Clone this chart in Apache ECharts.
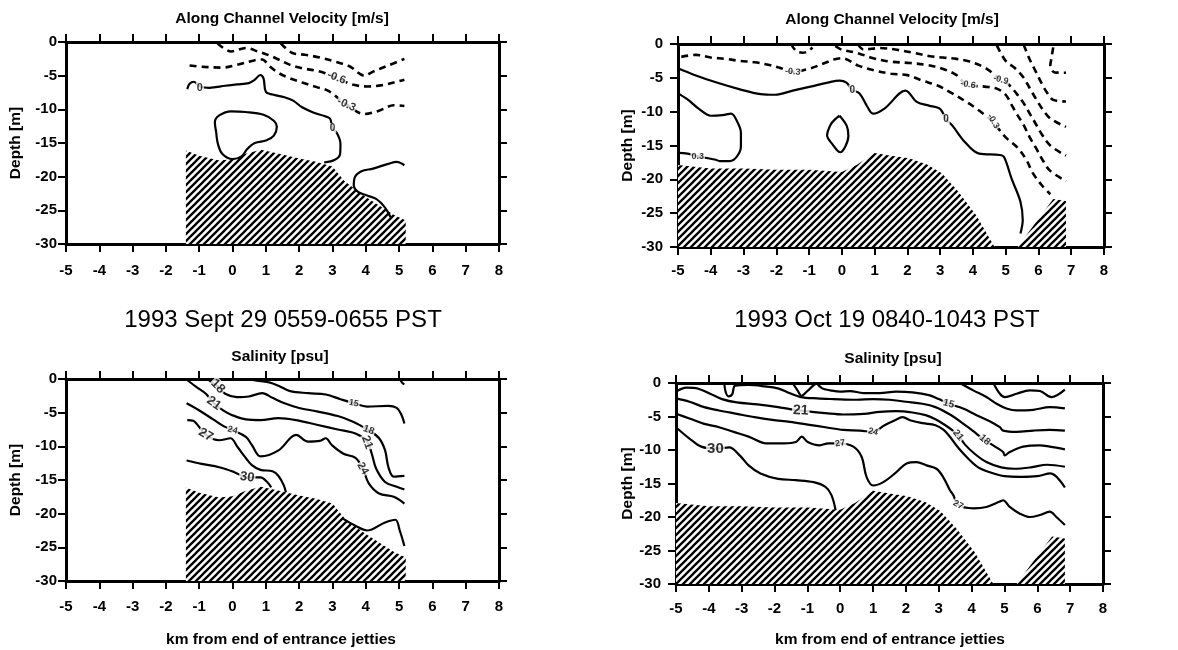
<!DOCTYPE html>
<html>
<head>
<meta charset="utf-8">
<script src="https://cdn.jsdelivr.net/npm/echarts@6/dist/echarts.min.js"></script>
<style>
html,body{margin:0;padding:0;background:#fff;}
#chart{width:1178px;height:650px;}
</style>
</head>
<body>
<div id="chart"></div>
<script>
// ---------------- DATA ----------------
const kmTicks = [-5,-4,-3,-2,-1,0,1,2,3,4,5,6,7,8];
const depthTicks = [0,-5,-10,-15,-20,-25,-30];

// bottom profiles [km, depth]
const bottomSep29 = [[-1.4,-16.1],[-1.0,-16.9],[-0.4,-17.6],[0.0,-17.4],[0.4,-16.6],[0.85,-16.0],[1.4,-16.6],[2.0,-17.3],[2.5,-17.8],[3.0,-18.5],[3.35,-20.6],[3.9,-22.7],[4.4,-24.3],[4.85,-25.7],[5.2,-26.5]];
const bottomOct19 = [[-5,-17.9],[-4.0,-18.4],[-3.0,-18.4],[-2.0,-18.6],[-1.0,-18.6],[0.0,-18.9],[0.45,-17.9],[1.0,-16.1],[1.5,-16.5],[2.05,-16.9],[2.6,-17.8],[3.05,-19.1],[3.55,-21.8],[4.1,-25.3],[4.66,-30],[5.37,-30],[5.9,-26.5],[6.45,-22.9],[6.84,-23.2]];

// Along channel velocity, 1993 Sept 29
const velSep29_m09 = [[1.45,-0.2],[1.78,-1.6],[2.18,-1.9],[2.62,-2.3],[3.07,-2.9],[3.51,-3.6],[3.96,-5.0],[4.22,-4.4],[4.67,-3.5],[5.16,-2.5]];
const velSep29_m06 = [[-0.45,-0.2],[-0.04,-1.4],[0.40,-0.9],[0.76,-1.4],[1.11,-2.0],[1.38,-2.6],[1.73,-3.4],[2.09,-3.9],[2.44,-4.2],[2.76,-4.6],[3.1,-5.3],[3.60,-6.3],[4.04,-6.6],[4.49,-6.4],[4.93,-5.9],[5.16,-5.6]];
const velSep29_m03 = [[-1.29,-3.5],[-0.84,-3.7],[-0.31,-3.8],[0.13,-3.4],[0.67,-2.7],[0.89,-2.6],[1.11,-3.6],[1.38,-4.6],[1.73,-5.4],[2.09,-6.0],[2.53,-6.7],[2.89,-7.3],[3.4,-9.2],[3.96,-10.7],[4.40,-10.2],[4.84,-9.4],[5.16,-9.5]];
const velSep29_0a = [[-1.36,-7.0],[-1.29,-6.2],[-1.16,-5.9],[-0.98,-6.6],[-0.7,-6.8],[-0.22,-6.5],[0.13,-6.3],[0.49,-6.1],[0.67,-5.6],[0.83,-4.9],[0.93,-5.4],[1.0,-7.4],[1.2,-7.8],[1.56,-8.2],[1.82,-8.7],[2.09,-9.7],[2.44,-10.5],[2.76,-11.0],[2.93,-11.4],[3.0,-12.8],[3.14,-13.6],[3.24,-15.1],[3.23,-16.6],[3.07,-17.5],[2.75,-17.9]];
const velSep29_0loop = [[-0.49,-13.4],[-0.53,-11.9],[-0.40,-10.9],[-0.04,-10.3],[0.40,-10.4],[0.93,-10.8],[1.24,-11.7],[1.33,-12.6],[1.24,-13.9],[1.02,-14.6],[0.67,-15.0],[0.44,-15.9],[0.27,-17.0],[0.0,-17.4],[-0.31,-16.6],[-0.44,-15.1],[-0.49,-13.4]];
const velSep29_0b = [[5.16,-18.3],[4.93,-17.8],[4.67,-18.1],[4.22,-18.8],[3.87,-19.2],[3.67,-20.1],[3.64,-21.3],[3.78,-22.3],[4.04,-22.8],[4.31,-23.3],[4.53,-24.3],[4.67,-25.3],[4.74,-26.0]];
const velSep29Labels = [[-0.98,-6.8,'0'],[3.0,-12.8,'0'],[3.12,-5.3,'-0.6'],[3.42,-9.3,'-0.3']];

// Along channel velocity, 1993 Oct 19
const velOct19_0a = [[-5,-3.6],[-4.54,-4.5],[-3.82,-5.7],[-3.11,-6.7],[-2.48,-7.4],[-2.04,-7.5],[-1.5,-6.9],[-0.96,-6.3],[-0.43,-5.7],[-0.07,-5.4],[0.14,-5.7],[0.32,-6.8],[0.54,-7.3],[0.77,-9.2],[0.95,-10.3],[1.31,-9.5],[1.94,-6.9],[2.3,-8.6],[2.66,-9.1],[2.97,-9.5],[3.06,-10.0],[3.18,-11.1],[3.38,-12.1],[3.74,-14.4],[4.19,-16.2],[4.82,-16.4],[4.95,-16.7],[5.18,-19.9],[5.45,-23.3],[5.52,-26.0],[5.45,-28.0]];
const velOct19_03 = [[-5,-7.3],[-4.71,-8.2],[-4.36,-9.6],[-4.0,-10.6],[-3.64,-10.5],[-3.38,-10.3],[-3.2,-11.4],[-3.08,-13.1],[-3.08,-15.1],[-3.2,-16.6],[-3.42,-17.3],[-3.73,-17.3],[-3.85,-17.1],[-4.4,-16.6],[-4.71,-16.2],[-5,-16.1]];
const velOct19_0loop = [[-0.07,-10.6],[0.15,-12.1],[0.2,-13.6],[0.11,-15.1],[-0.05,-16.0],[-0.29,-14.8],[-0.45,-13.5],[-0.34,-11.9],[-0.2,-11.1],[-0.07,-10.6]];
const velOct19_m03 = [[-4.9,-1.9],[-4.45,-1.6],[-4.0,-2.0],[-3.55,-2.2],[-3.11,-2.5],[-2.66,-2.7],[-2.21,-3.1],[-1.9,-3.5],[-1.5,-4.1],[-0.96,-3.6],[-0.52,-2.8],[-0.25,-2.3],[0.0,-2.1],[0.5,-3.2],[1.0,-3.9],[1.5,-4.4],[2.0,-4.6],[2.45,-5.4],[2.9,-6.1],[3.3,-7.1],[3.75,-8.4],[4.15,-9.7],[4.6,-11.5],[5.0,-13.8],[5.36,-15.3],[5.64,-17.2],[5.82,-19.0],[6.09,-20.8],[6.36,-22.2]];
const velOct19_m06a = [[-1.55,0],[-1.4,-1.0],[-1.2,-1.3],[-1.0,-1.0],[-0.9,-0.5]];
const velOct19_m06 = [[-0.2,-0.3],[0.0,-0.85],[0.45,-1.3],[0.96,-2.1],[1.47,-2.6],[2.08,-2.8],[2.59,-3.1],[3.09,-3.7],[3.5,-4.6],[3.8,-6.0],[4.36,-6.3],[4.73,-6.6],[5.0,-7.5],[5.18,-9.0],[5.36,-10.5],[5.55,-12.0],[5.73,-13.75],[5.91,-15.25],[6.14,-17.25],[6.36,-18.75],[6.84,-20.25]];
const velOct19_m09 = [[0.5,-0.1],[0.66,-0.8],[1.17,-0.6],[1.68,-0.85],[2.18,-1.3],[2.69,-1.8],[3.09,-2.0],[3.5,-2.2],[3.9,-2.6],[4.4,-3.6],[4.85,-5.3],[5.09,-6.0],[5.32,-7.25],[5.55,-8.75],[5.73,-10.25],[5.91,-11.75],[6.09,-13.25],[6.36,-15.0],[6.84,-16.5]];
const velOct19_m12 = [[4.73,-0.2],[5.0,-2.5],[5.27,-3.5],[5.55,-5.0],[5.73,-6.5],[5.91,-8.0],[6.14,-9.75],[6.36,-11.0],[6.84,-12.25]];
const velOct19_m15 = [[5.55,-0.1],[5.73,-2.25],[5.91,-4.0],[6.09,-5.75],[6.27,-7.25],[6.45,-8.25],[6.84,-8.5]];
const velOct19_m18 = [[6.45,-0.5],[6.4,-2.0],[6.36,-3.25],[6.5,-4.2],[6.84,-4.25]];
const velOct19Labels = [[-1.5,-4.1,'-0.3'],[0.32,-6.8,'0'],[3.18,-11.1,'0'],[3.85,-6.0,'-0.6'],[4.85,-5.3,'-0.9'],[4.62,-11.4,'-0.3'],[-4.4,-16.6,'0.3']];

// Salinity, 1993 Sept 29
const salSep29_15 = [[0.45,0],[0.8,-0.3],[1.1,-0.5],[1.38,-1.0],[1.73,-1.8],[2.27,-2.1],[2.8,-2.3],[3.24,-3.0],[3.64,-3.6],[4.04,-4.1],[4.67,-4.0],[4.93,-4.3],[5.07,-5.3],[5.16,-6.6]];
const salSep29_15b = [[5.02,0],[5.1,-0.6],[5.16,-0.8]];
const salSep29_18 = [[-0.75,0],[-0.6,-0.6],[-0.44,-1.1],[-0.22,-2.2],[0.13,-2.7],[0.49,-2.6],[0.89,-2.1],[1.2,-2.8],[1.56,-3.6],[2.0,-4.3],[2.53,-4.8],[3.16,-5.5],[3.6,-6.3],[3.87,-7.0],[4.09,-7.6],[4.4,-8.8],[4.58,-10.6],[4.68,-13.1],[4.84,-14.5],[5.16,-14.4]];
const salSep29_21 = [[-1.4,0],[-1.11,-1.1],[-0.8,-2.2],[-0.56,-3.6],[-0.27,-4.7],[-0.04,-5.3],[0.4,-6.0],[0.84,-6.1],[1.38,-5.8],[1.91,-6.1],[2.53,-6.8],[3.16,-7.5],[3.69,-8.1],[4.04,-9.3],[4.18,-11.1],[4.31,-13.3],[4.58,-15.3],[4.93,-16.0],[5.16,-16.4]];
const salSep29_24 = [[-1.38,-3.6],[-1.02,-4.6],[-0.58,-6.0],[-0.27,-7.0],[0.0,-7.6],[0.4,-8.6],[0.58,-9.8],[0.84,-11.5],[1.38,-10.6],[1.91,-8.3],[2.27,-9.3],[2.62,-9.2],[2.8,-8.8],[2.98,-9.8],[3.33,-11.1],[3.69,-11.7],[3.91,-13.3],[4.09,-15.5],[4.4,-17.0],[4.84,-17.5],[5.16,-18.5]];
const salSep29_27 = [[-1.36,-6.1],[-1.18,-6.2],[-1.07,-6.7],[-0.8,-8.3],[-0.4,-9.1],[-0.06,-8.8],[0.15,-10.1],[0.36,-11.5],[0.58,-12.8],[0.84,-13.5],[1.2,-13.7],[1.38,-14.4],[1.54,-15.8],[1.6,-16.8]];
const salSep29_30 = [[-1.38,-12.1],[-0.93,-12.6],[-0.4,-13.1],[0.04,-13.8],[0.44,-14.6],[0.84,-14.6],[1.04,-15.3],[1.16,-16.1]];
const salSep29_30b = [[3.3,-20.7],[3.69,-21.8],[4.04,-22.5],[4.58,-21.3],[4.89,-20.9],[5.02,-22.5],[5.16,-24.8]];
const salSep29Labels = [[-0.44,-1.1,'18'],[-0.56,-3.6,'21'],[0.0,-7.6,'24'],[-0.8,-8.3,'27'],[0.44,-14.6,'30'],[3.64,-3.6,'15'],[4.09,-7.6,'18'],[4.04,-9.4,'21'],[3.91,-13.3,'24']];

// Salinity, 1993 Oct 19
const salOct19_a = [[4.66,0],[4.86,-1.6],[5.01,-2.1],[5.37,-1.6],[5.77,-1.1],[6.08,-1.2],[6.43,-2.1],[6.84,-1.0]];
const salOct19_b = [[3.64,0],[4.05,-1.1],[4.45,-2.1],[4.76,-3.1],[5.06,-3.8],[5.37,-4.1],[5.88,-4.0],[6.38,-3.6],[6.84,-3.8]];
const salOct19_15 = [[-0.72,0],[-0.55,-0.8],[-0.3,-1.1],[0.0,-1.3],[0.3,-1.2],[0.7,-1.5],[1.2,-1.5],[1.7,-1.3],[2.2,-1.4],[2.7,-1.8],[3.0,-2.4],[3.3,-3.1],[3.74,-3.8],[4.15,-4.8],[4.55,-5.7],[4.86,-6.6],[4.96,-7.1],[5.37,-7.3],[5.88,-7.1],[6.38,-7.0],[6.84,-7.1]];
const salOct19_18 = [[-3.53,0],[-3.49,-1.3],[-3.4,-2.0],[-3.29,-1.7],[-3.2,-0.4],[-2.8,-0.3],[-2.3,-0.5],[-1.9,-0.8],[-1.55,-1.5],[-1.2,-2.1],[-0.7,-2.3],[-0.2,-2.4],[0.5,-2.5],[1.0,-2.4],[1.5,-2.5],[2.0,-2.8],[2.5,-3.1],[2.9,-3.6],[3.3,-4.6],[3.7,-5.9],[4.05,-7.2],[4.4,-8.5],[4.75,-9.6],[4.96,-10.3],[5.01,-10.8],[5.16,-10.3],[5.57,-9.5],[6.08,-9.3],[6.38,-9.5],[6.84,-9.9]];
const salOct19_v = [[-1.45,0],[-1.3,-1.1],[-1.18,-1.9],[-1.0,-1.2],[-0.85,-0.5],[-0.72,0]];
const salOct19_21 = [[-5,-1.3],[-4.68,-0.7],[-4.32,-0.85],[-3.96,-1.6],[-3.6,-2.4],[-3.15,-2.9],[-2.52,-3.2],[-1.89,-3.6],[-1.53,-3.9],[-1.2,-4.1],[-0.86,-4.3],[-0.45,-4.5],[0.09,-4.7],[0.72,-4.6],[1.2,-4.3],[1.7,-4.2],[2.2,-4.4],[2.6,-4.8],[2.9,-5.4],[3.2,-6.3],[3.4,-7.0],[3.59,-7.8],[3.8,-9.2],[4.1,-10.6],[4.45,-11.8],[4.9,-12.6],[5.3,-12.8],[5.8,-12.6],[6.3,-12.2],[6.84,-12.5]];
const salOct19_24 = [[-5,-2.3],[-4.59,-2.8],[-4.14,-3.6],[-3.69,-4.1],[-3.15,-4.6],[-2.61,-5.1],[-2.07,-5.5],[-1.53,-5.8],[-0.99,-6.2],[-0.45,-6.6],[0.09,-7.0],[0.6,-7.1],[1.0,-7.3],[1.35,-6.3],[1.65,-5.6],[1.9,-5.1],[2.15,-5.6],[2.5,-6.0],[2.9,-6.3],[3.15,-7.0],[3.35,-8.1],[3.6,-9.7],[3.9,-11.3],[4.2,-12.6],[4.6,-13.4],[5.0,-13.9],[5.5,-14.0],[6.0,-13.9],[6.4,-13.5],[6.84,-15.6]];
const salOct19_27 = [[-5,-4.6],[-4.59,-5.3],[-4.14,-6.1],[-3.69,-6.6],[-3.24,-7.3],[-2.79,-8.0],[-2.25,-9.0],[-1.71,-9.0],[-1.35,-8.8],[-1.17,-8.0],[-0.99,-8.8],[-0.63,-9.3],[-0.36,-9.0],[-0.02,-9.0],[0.4,-9.5],[0.65,-11.0],[0.8,-14.0],[1.0,-15.3],[1.31,-14.8],[1.71,-13.3],[2.02,-12.0],[2.32,-11.8],[2.63,-12.3],[2.93,-12.8],[3.13,-14.0],[3.34,-16.0],[3.44,-16.7],[3.59,-18.2],[4.05,-18.7],[4.45,-18.5],[4.86,-17.7],[4.96,-17.5],[5.16,-18.5],[5.47,-19.5],[5.77,-20.0],[6.08,-19.7],[6.38,-19.2],[6.58,-20.0],[6.84,-21.2]];
const salOct19_30 = [[-5,-6.6],[-4.59,-8.3],[-4.23,-9.5],[-3.78,-9.8],[-3.38,-9.6],[-3.06,-10.8],[-2.79,-12.3],[-2.43,-13.5],[-1.89,-14.3],[-1.35,-14.5],[-0.81,-14.8],[-0.45,-15.5],[-0.27,-16.7],[-0.14,-19.0]];
const salOct19Labels = [[-1.2,-4.1,'21'],[3.3,-3.1,'15'],[1.0,-7.3,'24'],[0.0,-9.0,'27'],[-3.8,-9.8,'30'],[3.59,-7.8,'21'],[4.4,-8.5,'18'],[3.59,-18.2,'27']];

// ---------------- STYLE / LAYOUT ----------------
const FONT = '"Liberation Sans", Arial, Helvetica, sans-serif';
// [rotate, fontSize] per label
const velSep29Look = [[0,11],[0,10],[-20,11],[-25,11]];
const velOct19Look = [[-5,9],[0,10],[0,10],[-10,9],[-15,9],[-60,9],[0,9]];
const salSep29Look = [[-45,13],[-35,13],[-15,9],[-30,13],[-8,13],[-10,9],[-20,10],[-70,12],[-60,11]];
const salOct19Look = [[-3,14],[-15,10],[-12,9],[8,9],[0,15],[-50,10],[-40,10],[-30,9]];

const panels = [
  {grid:{left:66, top:42, width:433, height:202}, xm:19, ym:9, ng:42, bottom:bottomSep29,
   lines:[[velSep29_m09,1],[velSep29_m06,1],[velSep29_m03,1],[velSep29_0a,0],[velSep29_0loop,0],[velSep29_0b,0]],
   labels:velSep29Labels, look:velSep29Look},
  {grid:{left:678, top:44, width:426, height:203}, xm:16, ym:15, ng:42, bottom:bottomOct19,
   lines:[[velOct19_0a,0],[velOct19_03,0],[velOct19_0loop,0],[velOct19_m03,1],[velOct19_m06a,1],[velOct19_m06,1],[velOct19_m09,1],[velOct19_m12,1],[velOct19_m15,1],[velOct19_m18,1]],
   labels:velOct19Labels, look:velOct19Look},
  {grid:{left:66, top:379, width:433, height:202}, xm:18, ym:9, ng:42, bottom:bottomSep29,
   lines:[[salSep29_15,0],[salSep29_15b,0],[salSep29_18,0],[salSep29_21,0],[salSep29_24,0],[salSep29_27,0],[salSep29_30,0],[salSep29_30b,0]],
   labels:salSep29Labels, look:salSep29Look},
  {grid:{left:676, top:383, width:427, height:201}, xm:17, ym:15, ng:40, bottom:bottomOct19,
   lines:[[salOct19_a,0],[salOct19_b,0],[salOct19_15,0],[salOct19_18,0],[salOct19_v,0],[salOct19_21,0],[salOct19_24,0],[salOct19_27,0],[salOct19_30,0]],
   labels:salOct19Labels, look:salOct19Look}
];

function hatchCanvas(){
  const s = 7;
  const c = document.createElement('canvas');
  c.width = s; c.height = s;
  const g = c.getContext('2d');
  g.fillStyle = '#fff'; g.fillRect(0,0,s,s);
  g.strokeStyle = '#000'; g.lineWidth = 2.3; g.lineCap = 'square';
  g.beginPath();
  g.moveTo(-1, s+1); g.lineTo(s+1, -1);
  g.moveTo(-1, 1); g.lineTo(1, -1);
  g.moveTo(s-1, s+1); g.lineTo(s+1, s-1);
  g.stroke();
  return c;
}
const hatch = hatchCanvas();

const grids = [], xAxes = [], yAxes = [], series = [];
const kmMin = kmTicks[0], kmMax = kmTicks[kmTicks.length-1];
const dMax = depthTicks[0], dMin = depthTicks[depthTicks.length-1];
const axisLineS = {onZero:false, lineStyle:{color:'#000', width:3}};
const tickS = {inside:false, length:8, lineStyle:{color:'#000', width:2}};
const lblS = {color:'#000', fontSize:15, fontWeight:'bold', fontFamily:FONT};

panels.forEach((p, i) => {
  grids.push(Object.assign({containLabel:false, show:false}, p.grid));
  xAxes.push({gridIndex:i, type:'value', min:kmMin, max:kmMax, interval:1, position:'bottom',
    axisLine:axisLineS, axisTick:tickS, axisLabel:Object.assign({margin:p.xm}, lblS), splitLine:{show:false}});
  xAxes.push({gridIndex:i, type:'value', min:kmMin, max:kmMax, interval:1, position:'top',
    axisLine:axisLineS, axisTick:tickS, axisLabel:{show:false}, splitLine:{show:false}});
  yAxes.push({gridIndex:i, type:'value', min:dMin, max:dMax, interval:5, position:'left',
    name:'Depth [m]', nameLocation:'middle', nameGap:p.ng, nameRotate:90,
    nameTextStyle:{color:'#000', fontSize:15.5, fontWeight:'bold', fontFamily:FONT},
    axisLine:axisLineS, axisTick:tickS, axisLabel:Object.assign({margin:p.ym}, lblS), splitLine:{show:false}});
  yAxes.push({gridIndex:i, type:'value', min:dMin, max:dMax, interval:5, position:'right',
    axisLine:axisLineS, axisTick:tickS, axisLabel:{show:false}, splitLine:{show:false}});
  const xi = 2*i, yi = 2*i;
  series.push({type:'line', xAxisIndex:xi, yAxisIndex:yi, data:p.bottom, symbol:'none', silent:true,
    lineStyle:{width:0, opacity:0}, areaStyle:{color:{image:hatch, repeat:'repeat'}, opacity:1, origin:'start'}, z:1});
  p.lines.forEach(l => {
    series.push({type:'line', xAxisIndex:xi, yAxisIndex:yi, data:l[0], symbol:'none', silent:true, smooth:0.35,
      lineStyle:{color:'#000', width: l[1] ? 2.6 : 2.2, type: l[1] ? [7,5] : 'solid', cap:'butt'}, z:3});
  });
  series.push({type:'scatter', xAxisIndex:xi, yAxisIndex:yi, symbol:'circle', symbolSize:1, silent:true, z:5,
    itemStyle:{color:'rgba(0,0,0,0)'},
    data:p.labels.map((l,k) => ({value:[l[0], l[1]], name:l[2],
      label:{rotate:p.look[k][0], fontSize:p.look[k][1]}})),
    label:{show:true, position:'inside', formatter:q => q.name, color:'#000', fontWeight:'bold',
      fontFamily:FONT, backgroundColor:'#fff', padding:[0,1]}});
});

const tStyle = {color:'#000', fontSize:15.5, fontWeight:'bold', fontFamily:FONT};
const bigStyle = {color:'#000', fontSize:24, fontWeight:'normal', fontFamily:FONT};
const titles = [
  {text:'Along Channel Velocity [m/s]', left:282, top:11, textAlign:'center', padding:0, textStyle:tStyle},
  {text:'Along Channel Velocity [m/s]', left:892, top:12, textAlign:'center', padding:0, textStyle:tStyle},
  {text:'1993 Sept 29 0559-0655 PST', left:283, top:308, textAlign:'center', padding:0, textStyle:bigStyle},
  {text:'1993 Oct 19 0840-1043 PST', left:887, top:308, textAlign:'center', padding:0, textStyle:bigStyle},
  {text:'Salinity [psu]', left:280, top:349, textAlign:'center', padding:0, textStyle:tStyle},
  {text:'Salinity [psu]', left:893, top:351, textAlign:'center', padding:0, textStyle:tStyle},
  {text:'km from end of entrance jetties', left:281, top:632, textAlign:'center', padding:0, textStyle:tStyle},
  {text:'km from end of entrance jetties', left:890, top:632, textAlign:'center', padding:0, textStyle:tStyle}
];

const chart = echarts.init(document.getElementById('chart'), null, {renderer:'canvas'});
chart.setOption({
  animation:false,
  backgroundColor:'#fff',
  title:titles,
  grid:grids, xAxis:xAxes, yAxis:yAxes, series:series
});
</script>
</body>
</html>
